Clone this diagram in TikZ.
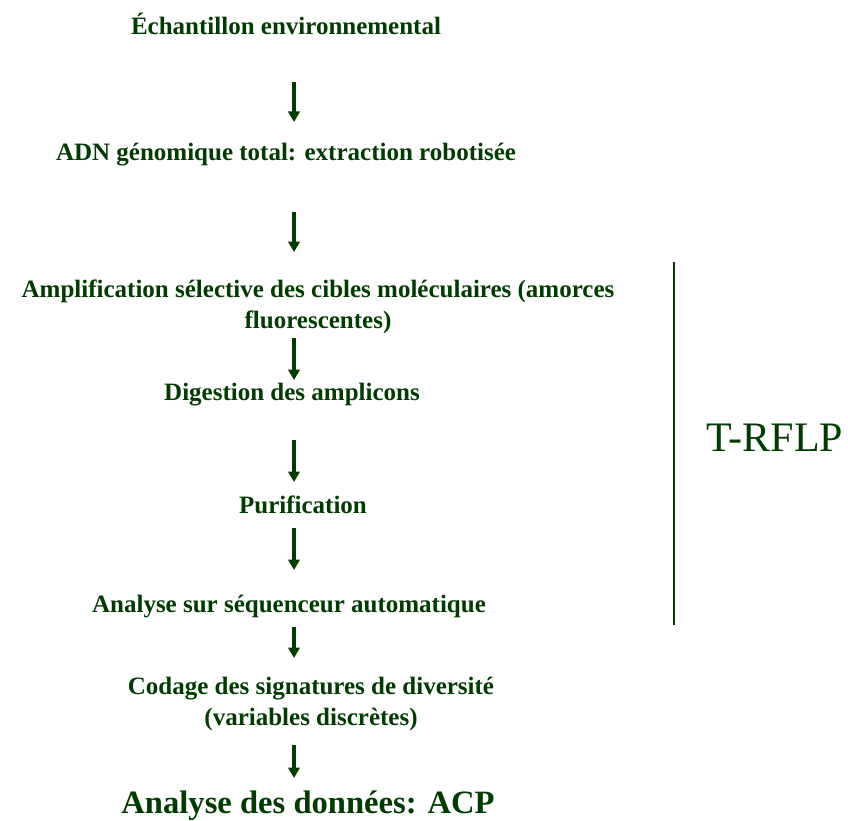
\documentclass[tikz,border=0pt]{standalone}
\usepackage{fontspec}
\setmainfont{Liberation Serif}
\usetikzlibrary{positioning,arrows.meta}
\definecolor{vertFonce}{HTML}{003C00}
\tikzset{
  etape/.style={font=\bfseries\fontsize{25}{31}\selectfont, text=vertFonce,
    inner sep=0pt, align=center, anchor=base},
  fleche/.style={-{Triangle[width=11.5pt,length=10.5pt]}, line width=3.2pt, vertFonce},
  accolade/.style={line width=2.6pt, vertFonce},
}
\begin{document}
\begin{tikzpicture}[x=1pt,y=-1pt]
    \useasboundingbox (0,0) rectangle (848,821);
    \coordinate (axe) at (294,0);
    \node[etape] (ech)  at (286,35)  {Échantillon environnemental};
    \node[etape] (adn)  at (286,161) {ADN génomique total: extraction robotisée};
    \node[etape] (ampl) at (318,328) {Amplification sélective des cibles moléculaires (amorces\\fluorescentes)};
    \node[etape] (dig)  at (292,400) {Digestion des amplicons};
    \node[etape] (puri) at (303,513) {Purification};
    \node[etape] (seq)  at (289,612) {Analyse sur séquenceur automatique};
    \node[etape] (cod)  at (311,725) {Codage des signatures de diversité\\(variables discrètes)};
    \node[etape, font=\bfseries\fontsize{32.6}{38}\selectfont] (acp) at (308,813) {Analyse des données: ACP};
    % bloc T-RFLP
    \coordinate (hautT) at (674,262);
    \coordinate (basT) at (674,625);
    \draw[accolade] (hautT) -- (basT);
    \node[font=\fontsize{42}{48}\selectfont, text=vertFonce, inner sep=0pt, anchor=base] (trflp) at (775,451) {T-RFLP};
    \draw[fleche, shorten <=47pt, shorten >=39pt] (ech.base -| axe) -- (adn.base -| axe);
    \draw[fleche, shorten <=51pt, shorten >=76pt] (adn.base -| axe) -- (ampl.base -| axe);
    \draw[fleche, shorten <=10pt, shorten >=20pt] (ampl.base -| axe) -- (dig.base -| axe);
    \draw[fleche, shorten <=40pt, shorten >=31pt] (dig.base -| axe) -- (puri.base -| axe);
    \draw[fleche, shorten <=15pt, shorten >=42pt] (puri.base -| axe) -- (seq.base -| axe);
    \draw[fleche, shorten <=15pt, shorten >=67pt] (seq.base -| axe) -- (cod.base -| axe);
    \draw[fleche, shorten <=20pt, shorten >=35pt] (cod.base -| axe) -- (acp.base -| axe);
\end{tikzpicture}
\end{document}
